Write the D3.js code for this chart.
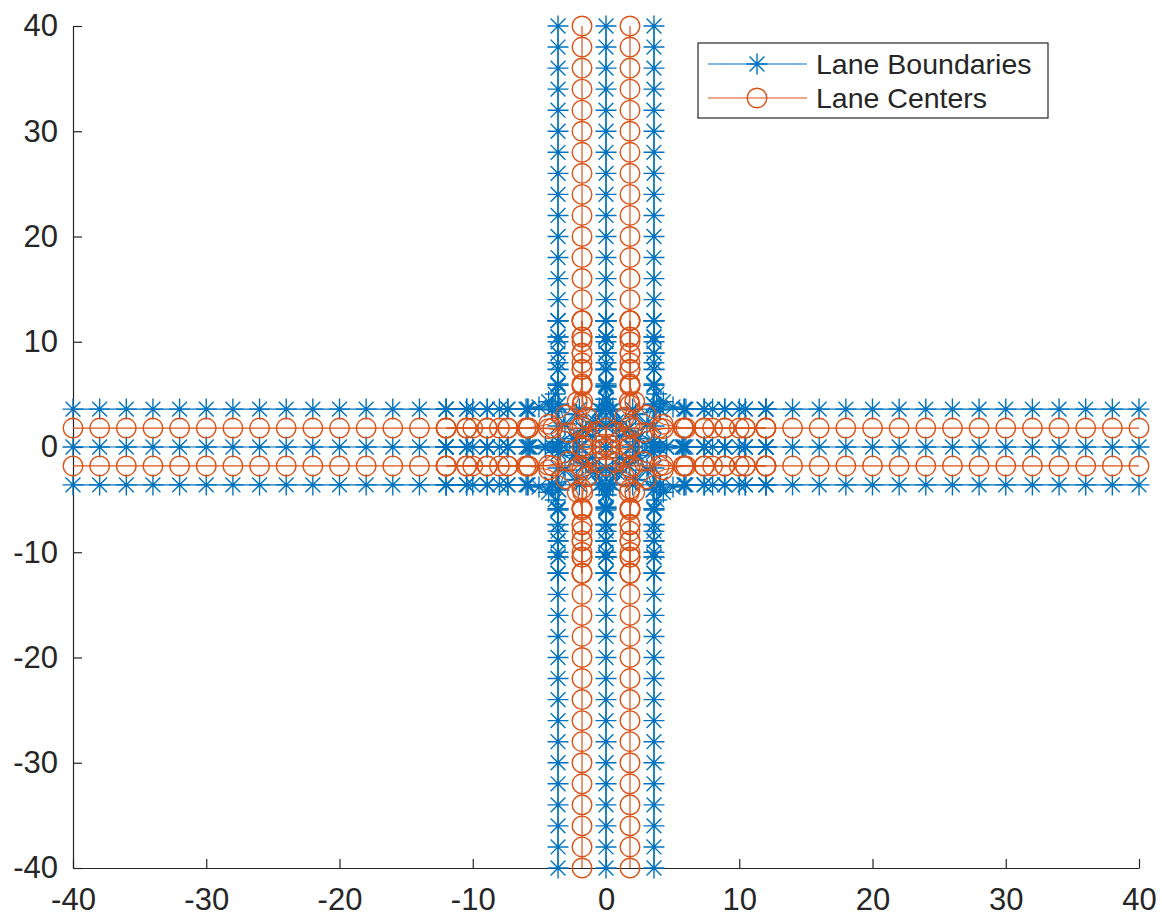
<!DOCTYPE html>
<html>
<head>
<meta charset="utf-8">
<script src="https://cdn.jsdelivr.net/npm/d3@7"></script>
<style>
  html, body { margin: 0; padding: 0; background: #ffffff; }
  svg { display: block; }
</style>
</head>
<body>
<svg id="chart" width="1162" height="917"></svg>
<script>
// ---------------- data ----------------
const seriesNames = ["Lane Boundaries", "Lane Centers"];
const xTicks = [-40, -30, -20, -10, 0, 10, 20, 30, 40];
const yTicks = [-40, -30, -20, -10, 0, 10, 20, 30, 40];

// stations along the two straight roads (every 2 m)
const stations = [-40,-38,-36,-34,-32,-30,-28,-26,-24,-22,-20,-18,-16,-14,-12,-10,-8,-6,-4,-2,
                  0,2,4,6,8,10,12,14,16,18,20,22,24,26,28,30,32,34,36,38,40];
// lateral offsets of lane boundaries / lane centers on the straight roads
const boundaryOffsets = [-3.6, 0, 3.6];
const centerOffsets = [-1.8, 1.8];

// turning paths through the junction, for the approach from the west
const rightTurnCenter = [[-12,-1.8],[-10.45,-1.8],[-8.901,-1.8],[-7.351,-1.8],[-5.801,-1.805],[-4.301,-2.159],
                         [-3.03,-3.03],[-2.159,-4.301],[-1.805,-5.801],[-1.8,-7.351],[-1.8,-8.901],[-1.8,-10.45],[-1.8,-12]];
const rightTurnOuter  = [[-12,0],[-10.45,0],[-8.901,0],[-7.351,0],[-5.716,-0.007],[-3.573,-0.513],
                         [-1.757,-1.757],[-0.513,-3.573],[-0.007,-5.716],[0,-7.351],[0,-8.901],[0,-10.45],[0,-12]];
const rightTurnInner  = [[-12,-3.6],[-10.45,-3.6],[-8.901,-3.6],[-7.351,-3.6],[-5.886,-3.603],[-5.029,-3.805],
                         [-4.303,-4.303],[-3.805,-5.029],[-3.603,-5.886],[-3.6,-7.351],[-3.6,-8.901],[-3.6,-10.45],[-3.6,-12]];
const leftTurnCenter  = [[-12,-1.8],[-10.463,-1.8],[-8.926,-1.8],[-7.388,-1.8],[-5.851,-1.8],[-4.317,-1.744],
                         [-2.826,-1.385],[-1.448,-0.709],[-0.25,0.25],[0.709,1.448],[1.385,2.826],[1.744,4.317],
                         [1.8,5.851],[1.8,7.388],[1.8,8.926],[1.8,10.463],[1.8,12]];
const leftTurnOuter   = [[-12,-3.6],[-10.463,-3.6],[-8.926,-3.6],[-7.388,-3.6],[-5.851,-3.6],[-4.089,-3.53],
                         [-2.215,-3.078],[-0.483,-2.229],[1.023,-1.023],[2.229,0.483],[3.078,2.215],[3.53,4.089],
                         [3.6,5.851],[3.6,7.388],[3.6,8.926],[3.6,10.463],[3.6,12]];
const leftTurnInner   = [[-12,0],[-10.463,0],[-8.926,0],[-7.388,0],[-5.851,0],[-4.544,0.042],
                         [-3.436,0.308],[-2.413,0.81],[-1.523,1.523],[-0.81,2.413],[-0.308,3.436],[-0.042,4.544],
                         [0,5.851],[0,7.388],[0,8.926],[0,10.463],[0,12]];
// the four approaches (rotation of the west approach, degrees)
const approachAngles = [0, 90, 180, 270];

// ---------------- build polylines ----------------
function rotate(pts, deg) {
  const a = deg * Math.PI / 180, c = Math.cos(a), s = Math.sin(a);
  return pts.map(([x, y]) => [x * c - y * s, x * s + y * c]);
}
const boundaryLines = [];
const centerLines = [];
boundaryOffsets.forEach(o => {
  boundaryLines.push(stations.map(s => [s, o]));
  boundaryLines.push(stations.map(s => [o, s]));
});
centerOffsets.forEach(o => {
  centerLines.push(stations.map(s => [s, o]));
  centerLines.push(stations.map(s => [o, s]));
});
approachAngles.forEach(a => {
  [rightTurnOuter, rightTurnInner, leftTurnOuter, leftTurnInner].forEach(p => boundaryLines.push(rotate(p, a)));
  [rightTurnCenter, leftTurnCenter].forEach(p => centerLines.push(rotate(p, a)));
});

// ---------------- layout ----------------
const svg = d3.select("#chart");
const X0 = 73, X1 = 1139, Y0 = 868, Y1 = 26;
const x = d3.scaleLinear().domain([-40, 40]).range([X0, X1]);
const y = d3.scaleLinear().domain([-40, 40]).range([Y0, Y1]);
const blue = "#0072BD", orange = "#D95319", axisColor = "#262626";
const fontFamily = "'Liberation Sans', Arial, Helvetica, sans-serif";

const line = d3.line().x(d => x(d[0])).y(d => y(d[1]));
const S = 10.5, D = S * 0.7071;
const starPath = `M${-S},0L${S},0M0,${-S}L0,${S}M${-D},${-D}L${D},${D}M${-D},${D}L${D},${-D}`;
const fmt = d => String(d);

// ---------------- axes ----------------
const xAxis = svg.append("g").attr("transform", `translate(0,${Y0})`)
  .call(d3.axisBottom(x).tickValues(xTicks).tickFormat(fmt).tickSizeInner(-9).tickSizeOuter(0).tickPadding(20));
const yAxis = svg.append("g").attr("transform", `translate(${X0},0)`)
  .call(d3.axisLeft(y).tickValues(yTicks).tickFormat(fmt).tickSizeInner(-9).tickSizeOuter(0).tickPadding(15));
[xAxis, yAxis].forEach(g => {
  g.selectAll("path, line").attr("stroke", axisColor).attr("stroke-width", 1.2);
  g.selectAll("text").attr("fill", axisColor).style("font-size", "31px").style("font-family", fontFamily);
});

// ---------------- data marks ----------------
const plot = svg.append("g");
// lane boundaries
plot.append("g").selectAll("path").data(boundaryLines).join("path")
  .attr("d", line).attr("fill", "none").attr("stroke", blue).attr("stroke-width", 1.2);
plot.append("g").selectAll("path").data(boundaryLines.flat()).join("path")
  .attr("transform", d => `translate(${x(d[0])},${y(d[1])})`)
  .attr("d", starPath).attr("fill", "none").attr("stroke", blue).attr("stroke-width", 1.4);
// lane centers
plot.append("g").selectAll("path").data(centerLines).join("path")
  .attr("d", line).attr("fill", "none").attr("stroke", orange).attr("stroke-width", 1.2);
plot.append("g").selectAll("circle").data(centerLines.flat()).join("circle")
  .attr("cx", d => x(d[0])).attr("cy", d => y(d[1])).attr("r", 9.8)
  .attr("fill", "none").attr("stroke", orange).attr("stroke-width", 1.4);

// ---------------- legend ----------------
const lg = svg.append("g");
lg.append("rect").attr("x", 698).attr("y", 43).attr("width", 350).attr("height", 75)
  .attr("fill", "#ffffff").attr("stroke", axisColor).attr("stroke-width", 1.2);
const rows = [{name: seriesNames[0], color: blue, y: 64, mark: "star"},
              {name: seriesNames[1], color: orange, y: 98, mark: "circle"}];
rows.forEach(r => {
  lg.append("line").attr("x1", 708).attr("x2", 807).attr("y1", r.y).attr("y2", r.y)
    .attr("stroke", r.color).attr("stroke-width", 1.2);
  if (r.mark === "star") {
    lg.append("path").attr("transform", `translate(757,${r.y})`).attr("d", starPath)
      .attr("fill", "none").attr("stroke", r.color).attr("stroke-width", 1.4);
  } else {
    lg.append("circle").attr("cx", 757).attr("cy", r.y).attr("r", 9.8)
      .attr("fill", "none").attr("stroke", r.color).attr("stroke-width", 1.4);
  }
  lg.append("text").attr("x", 816).attr("y", r.y).attr("dy", "0.35em")
    .attr("fill", axisColor).style("font-size", "28.5px").style("font-family", fontFamily)
    .text(r.name);
});
</script>
</body>
</html>
